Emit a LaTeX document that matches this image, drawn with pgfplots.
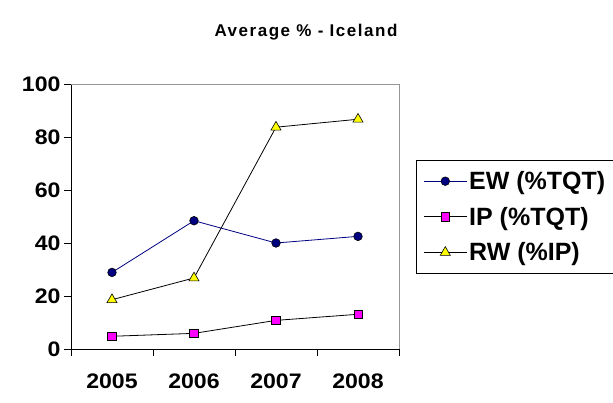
\documentclass[border=0pt]{standalone}
\usepackage{fontspec}
\setmainfont{Liberation Sans}
\newfontfamily\tickfont[FakeStretch=1.1]{Liberation Sans}
\newfontfamily\titlefont[LetterSpace=9]{Liberation Sans}
\usepackage{pgfplots}
\pgfplotsset{compat=1.18}
\definecolor{ewnavy}{RGB}{0,0,128}
\definecolor{ipmag}{RGB}{255,0,255}
\definecolor{rwyel}{RGB}{255,255,0}
\definecolor{frgray}{RGB}{150,150,150}
\begin{document}
\begin{tikzpicture}
\useasboundingbox (-71pt,-54pt) rectangle (542pt,349pt);
\node[font=\titlefont\bfseries\fontsize{17}{19}\selectfont] at (235pt,317pt) {Average \% - Iceland};
\begin{axis}[
  at={(0pt,0pt)}, anchor=origin,
  scale only axis, width=328pt, height=265pt,
  xmin=0.5, xmax=4.5, ymin=0, ymax=100,
  axis x line=bottom, axis y line=left,
  axis line style={-, black, line width=0.8pt},
  xtick={1,2,3,4}, xticklabels={2005,2006,2007,2008},
  minor xtick={0.5,1.5,2.5,3.5,4.5},
  major x tick style={draw=none},
  minor x tick style={draw=black, line width=0.8pt},
  ytick={0,20,40,60,80,100},
  y tick style={draw=black, line width=0.8pt},
  tick align=outside, major tick length=7pt, minor tick length=7pt,
  ticklabel style={font=\tickfont\bfseries\fontsize{21}{24}\selectfont},
  xticklabel style={yshift=-14pt},
  /pgf/number format/assume math mode=true,
  legend style={at={(1.0518,0.7132)}, anchor=north west, draw=black, line width=0.8pt,
    font=\bfseries\fontsize{25}{28}\selectfont, inner xsep=7pt, inner ysep=9pt,
    nodes={inner sep=2pt}, row sep=12pt,
    /tikz/every even column/.append style={column sep=4pt}},
  legend cell align=left,
  legend image code/.code={\draw[mark repeat=2,mark phase=2] plot coordinates {(0pt,0pt) (21.5pt,0pt) (43pt,0pt)};},
  clip=false,
]
\addplot[ewnavy, line width=0.8pt, mark=*, mark size=4.3pt, mark options={fill=ewnavy, draw=black, line width=0.6pt}]
  coordinates {(1,28.9) (2,48.4) (3,40.0) (4,42.5)};
\addlegendentry{EW (\%TQT)}
\addplot[black, line width=0.8pt, mark=square*, mark size=4.2pt, mark options={fill=ipmag, draw=black, line width=0.6pt}]
  coordinates {(1,4.8) (2,5.9) (3,10.8) (4,13.1)};
\addlegendentry{IP (\%TQT)}
\addplot[black, line width=0.8pt, mark=triangle*, mark size=5.8pt, mark options={fill=rwyel, draw=black, line width=0.6pt}]
  coordinates {(1,18.6) (2,26.8) (3,83.7) (4,86.7)};
\addlegendentry{RW (\%IP)}
\draw[frgray, line width=0.8pt] (rel axis cs:0,1) -- (rel axis cs:1,1) -- (rel axis cs:1,0);
\end{axis}
\end{tikzpicture}
\end{document}
